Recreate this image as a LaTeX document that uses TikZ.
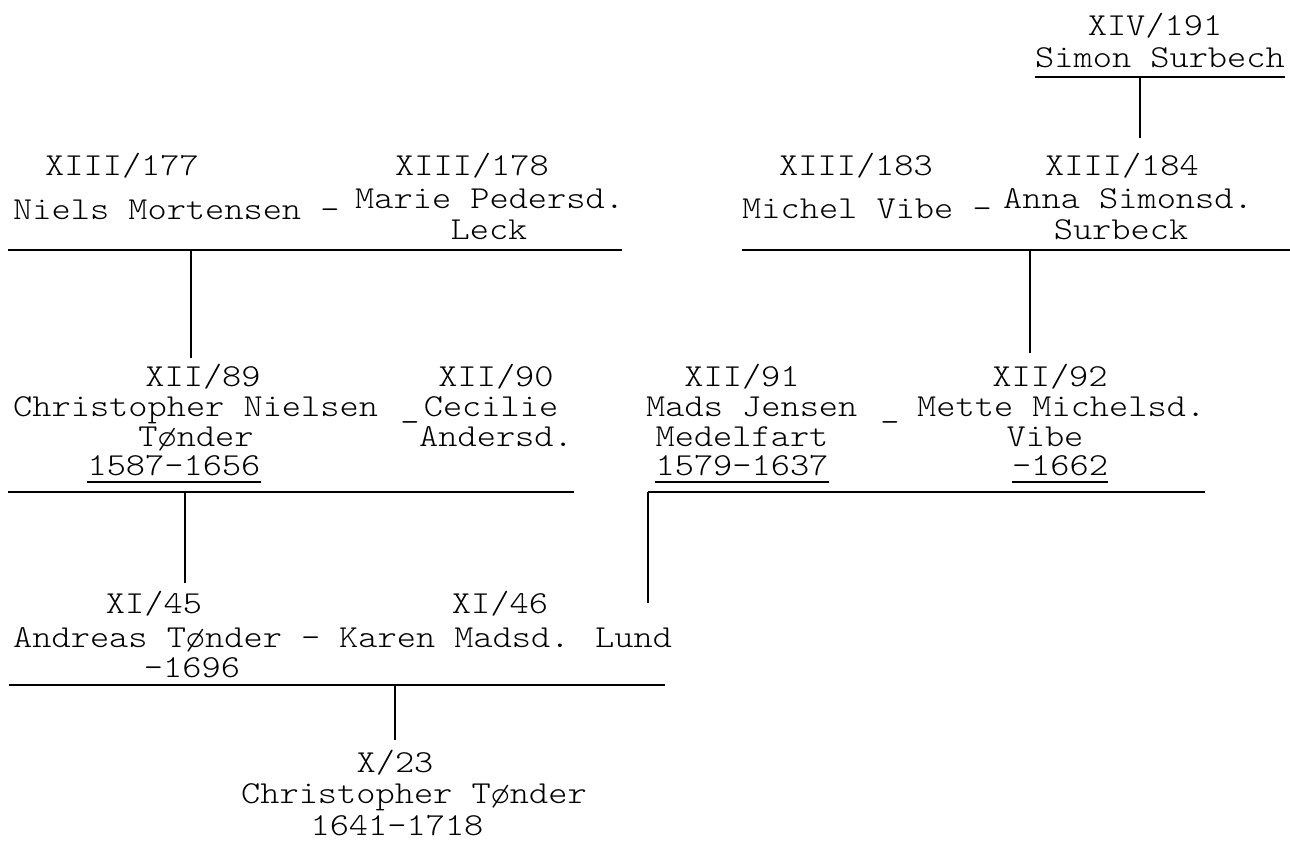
\documentclass[tikz,border=0pt]{standalone}
\usepackage{fontspec}
\newfontfamily\tw{lmmonolt10-regular.otf}[FakeStretch=1.143]
\tikzset{
  tt/.style={font=\tw\fontsize{32}{32}\selectfont, inner sep=0pt, anchor=base, text=black},
  ttl/.style={tt, anchor=base west},
  bar/.style={line width=2.4pt, draw=black},
  drop/.style={line width=2pt, draw=black},
  uline/.style={line width=1.5pt, draw=black},
}
\begin{document}
\begin{tikzpicture}[x=1pt,y=-1pt]
\useasboundingbox[fill=white] (0,0) rectangle (1290,841);

% generation XIV
\node[tt] (t191) at (1155,35) {XIV/191};
\node[tt] (tsimon) at (1160,67) {Simon Surbech};

% generation XIII
\node[tt] (t177) at (122,175) {XIII/177};
\node[ttl] (tniels) at (13,219) {Niels Mortensen -};
\node[tt] (t178) at (472,175) {XIII/178};
\node[ttl] (tmarie) at (355,208) {Marie Pedersd.};
\node[tt] (tleck) at (489,239) {Leck};

\node[tt] (t183) at (856,175) {XIII/183};
\node[ttl] (tmichel) at (742,218) {Michel Vibe -};
\node[tt] (t184) at (1122,175) {XIII/184};
\node[ttl] (tanna) at (1003,208) {Anna Simonsd.};
\node[tt] (tsurbeck) at (1121,239) {Surbeck};

% generation XII
\node[tt] (t89) at (203,386) {XII/89};
\node[ttl] (tchris) at (13,416) {Christopher Nielsen};
\node[tt] (ttonder) at (196,446) {Tønder};
\node[tt] (td89) at (174,475) {1587-1656};
\node[tt] (tdash1) at (410,417) {\_};
\node[tt] (t90) at (496,386) {XII/90};
\node[tt] (tcec) at (491,416) {Cecilie};
\node[tt] (tand) at (496,446) {Andersd.};

\node[tt] (t91) at (742,386) {XII/91};
\node[ttl] (tmads) at (646,416) {Mads Jensen};
\node[tt] (tdash2) at (890,417) {\_};
\node[tt] (tmedel) at (742,446) {Medelfart};
\node[tt] (td91) at (742,475) {1579-1637};
\node[tt] (t92) at (1050,386) {XII/92};
\node[ttl] (tmette) at (917,416) {Mette Michelsd.};
\node[tt] (tvibe) at (1045,446) {Vibe};
\node[tt] (td92) at (1060,475) {-1662};

% generation XI
\node[tt] (t45) at (154,613) {XI/45};
\node[ttl] (tandreas) at (13,647) {Andreas Tønder -};
\node[ttl] (tkaren) at (339,647) {Karen Madsd. Lund};
\node[tt] (t1696) at (192,677) {-1696};
\node[tt] (t46) at (500,613) {XI/46};

% generation X
\node[tt] (t23) at (395,772) {X/23};
\node[tt] (tct) at (414,803) {Christopher Tønder};
\node[tt] (t1641) at (397,835) {1641-1718};

% underlines
\draw[uline] ([yshift=-10pt]tsimon.base west) -- ([yshift=-10pt]tsimon.base east);
\draw[uline] ([yshift=-7pt]td89.base west) -- ([yshift=-7pt]td89.base east);
\draw[uline] ([yshift=-7pt]td91.base west) -- ([yshift=-7pt]td91.base east);
\draw[uline] ([yshift=-7pt]td92.base west) -- ([yshift=-7pt]td92.base east);

% couple lines
\coordinate (L13a) at (8,250);   \coordinate (L13b) at (622,250);
\coordinate (R13a) at (742,250); \coordinate (R13b) at (1290,250);
\coordinate (L12a) at (8,492);   \coordinate (L12b) at (574,492);
\coordinate (R12a) at (648,492); \coordinate (R12b) at (1205,492);
\coordinate (L11a) at (9,685);   \coordinate (L11b) at (665,685);
\draw[bar] (L13a) -- (L13b);
\draw[bar] (R13a) -- (R13b);
\draw[bar] (L12a) -- (L12b);
\draw[bar] (R12a) -- (R12b);
\draw[bar] (L11a) -- (L11b);

% descent lines
\coordinate (d1a) at (1140,77);  \coordinate (d1b) at (1140,138);
\coordinate (d2a) at (191,250);  \coordinate (d2b) at (191,358);
\coordinate (d3a) at (1030,250); \coordinate (d3b) at (1030,353);
\coordinate (d4a) at (185,492);  \coordinate (d4b) at (185,583);
\coordinate (d5b) at (648,603);
\coordinate (d6a) at (395,685);  \coordinate (d6b) at (395,740);
\draw[drop] (d1a) -- (d1b);
\draw[drop] (d2a) -- (d2b);
\draw[drop] (d3a) -- (d3b);
\draw[drop] (d4a) -- (d4b);
\draw[drop] (R12a) -- (d5b);
\draw[drop] (d6a) -- (d6b);
\end{tikzpicture}
\end{document}
